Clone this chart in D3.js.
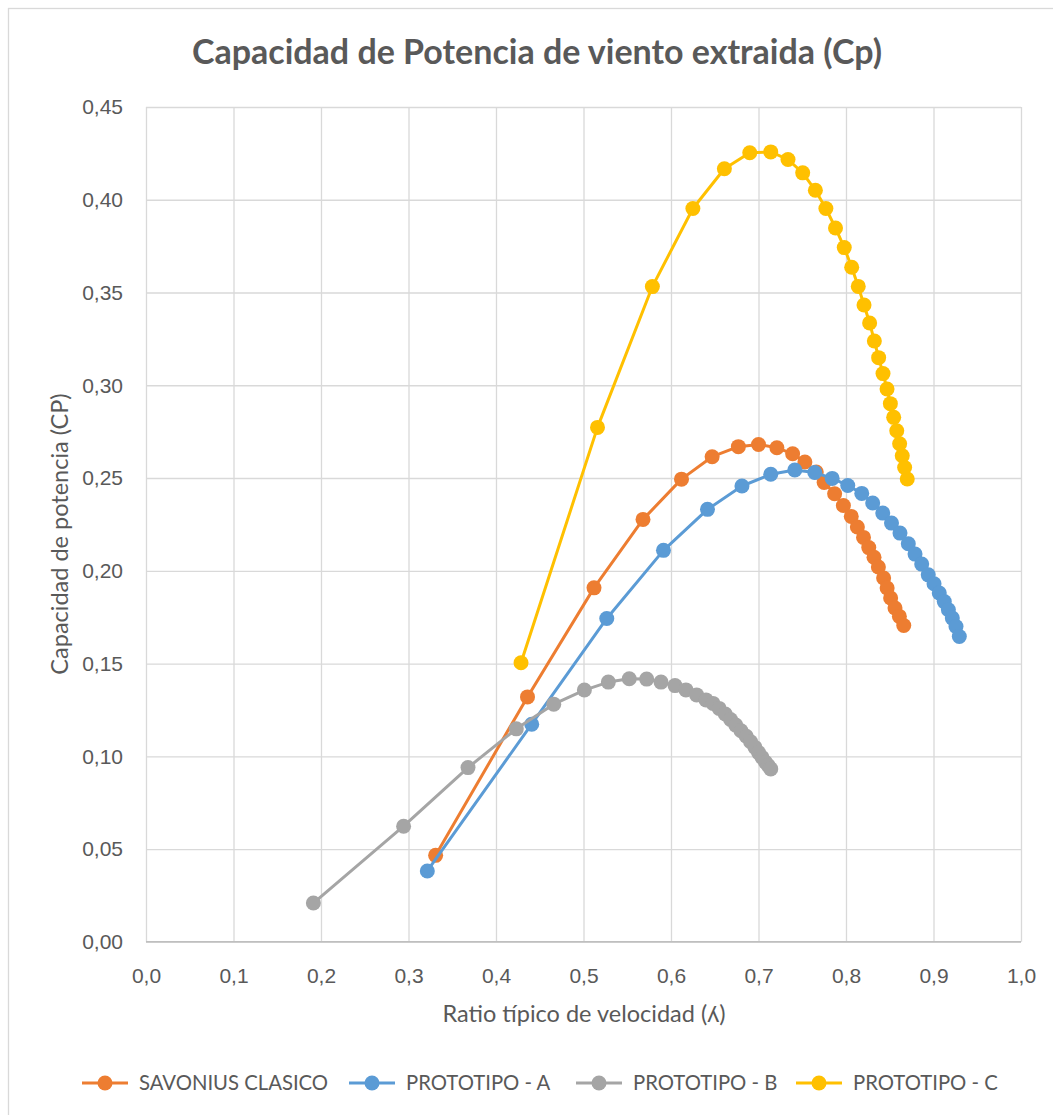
<!DOCTYPE html>
<html>
<head>
<meta charset="utf-8">
<script src="https://cdnjs.cloudflare.com/ajax/libs/d3/7.8.5/d3.min.js"></script>
<style>
  body { margin: 0; background: #fff; }
  svg { display: block; font-family: Lato, "Open Sans", sans-serif; }
  .grid line { stroke: #d9d9d9; stroke-width: 1.3px; }
  .grid .domain { display: none; }
  .tick text { fill: #595959; }
  .series-line { fill: none; stroke-width: 3px; stroke-linejoin: round; }
</style>
</head>
<body>
<svg id="chart" width="1053" height="1115"></svg>
<script>

// Savonius clasico
var lambdaSavonius = [0.331, 0.436, 0.512, 0.568, 0.612, 0.647, 0.677, 0.700, 0.721, 0.739, 0.753,
    0.766, 0.775, 0.787, 0.797, 0.806, 0.813, 0.820, 0.826, 0.832, 0.837, 0.843, 0.847, 0.851, 0.856, 0.861, 0.866];
var cpSavonius = [0.0466, 0.1320, 0.1908, 0.2277, 0.2494, 0.2615, 0.2669, 0.2681, 0.2663, 0.2631, 0.2586,
    0.2532, 0.2476, 0.2415, 0.2352, 0.2293, 0.2236, 0.2180, 0.2125, 0.2073, 0.2020, 0.1961, 0.1907, 0.1853, 0.1799, 0.1754, 0.1705];

// Prototipo A
var lambdaProtoA = [0.3215, 0.4408, 0.5266, 0.5914, 0.6417, 0.6811, 0.714, 0.7415, 0.7643, 0.7842, 0.802,
    0.818, 0.8305, 0.842, 0.852, 0.8617, 0.8712, 0.8789, 0.8865, 0.894, 0.9006, 0.9066, 0.9123, 0.917, 0.9215, 0.9257, 0.9295];
var cpProtoA = [0.0382, 0.1173, 0.1743, 0.2110, 0.2331, 0.2457, 0.2520, 0.2543, 0.2530, 0.2498, 0.2460,
    0.2417, 0.2365, 0.2311, 0.2257, 0.2203, 0.2146, 0.2090, 0.2036, 0.1978, 0.1930, 0.1880, 0.1834, 0.1790, 0.1745, 0.1700, 0.1646];

// Prototipo B
var lambdaProtoB = [0.1913, 0.2944, 0.368, 0.4232, 0.466, 0.501, 0.5284, 0.5523, 0.5722, 0.5886, 0.6046,
    0.6171, 0.6293, 0.640, 0.648, 0.655, 0.662, 0.668, 0.674, 0.680, 0.686, 0.691, 0.696, 0.700, 0.704, 0.708, 0.711, 0.714];
var cpProtoB = [0.0209, 0.0623, 0.0939, 0.1148, 0.1281, 0.1357, 0.1400, 0.1418, 0.1416, 0.1400, 0.1381,
    0.1358, 0.1331, 0.1304, 0.1285, 0.1258, 0.1228, 0.1198, 0.1168, 0.1138, 0.1108, 0.1078, 0.1048, 0.1020, 0.0994, 0.0968, 0.0950, 0.0932];

// Prototipo C
var lambdaProtoC = [0.4286, 0.516, 0.5787, 0.625, 0.661, 0.690, 0.714, 0.7337, 0.7505, 0.765, 0.777,
    0.788, 0.798, 0.8065, 0.814, 0.8206, 0.827, 0.8324, 0.8373, 0.8423, 0.8469, 0.8507, 0.8545, 0.858, 0.8613, 0.8643, 0.867, 0.870];
var cpProtoC = [0.1504, 0.2773, 0.3532, 0.3953, 0.4167, 0.4253, 0.4258, 0.4217, 0.4145, 0.4051, 0.3953,
    0.3848, 0.3742, 0.3636, 0.3533, 0.3433, 0.3336, 0.3239, 0.3149, 0.3063, 0.2980, 0.2901, 0.2827, 0.2755, 0.2685, 0.2620, 0.2557, 0.2495];

var seriesNames = ["SAVONIUS CLASICO", "PROTOTIPO - A", "PROTOTIPO - B", "PROTOTIPO - C"];
var seriesColors = ["#ED7D31", "#5B9BD5", "#A5A5A5", "#FFC000"];
var xTicks = [0, 0.1, 0.2, 0.3, 0.4, 0.5, 0.6, 0.7, 0.8, 0.9, 1.0];
var yTicks = [0, 0.05, 0.10, 0.15, 0.20, 0.25, 0.30, 0.35, 0.40, 0.45];

var series = [
    {name: seriesNames[0], color: seriesColors[0], x: lambdaSavonius, y: cpSavonius},
    {name: seriesNames[1], color: seriesColors[1], x: lambdaProtoA, y: cpProtoA},
    {name: seriesNames[2], color: seriesColors[2], x: lambdaProtoB, y: cpProtoB},
    {name: seriesNames[3], color: seriesColors[3], x: lambdaProtoC, y: cpProtoC}
];

var svg = d3.select("#chart");

// chart border (only top and left are visible in the frame)
svg.append("rect")
    .attr("x", 8.5).attr("y", 8.5)
    .attr("width", 1200).attr("height", 1200)
    .attr("fill", "none")
    .attr("stroke", "#d9d9d9")
    .attr("stroke-width", 1.3);

var plot = {left: 146, right: 1021, top: 107, bottom: 941.8};

var x = d3.scaleLinear().domain([0, 1]).range([plot.left, plot.right]);
var y = d3.scaleLinear().domain([0, 0.45]).range([plot.bottom, plot.top]);

var commaFmt = function(spec) {
    var f = d3.format(spec);
    return function(d) { return f(d).replace(".", ","); };
};

// grid
svg.append("g")
    .attr("class", "grid")
    .attr("transform", "translate(0," + plot.bottom + ")")
    .call(d3.axisBottom(x).tickValues(xTicks).tickSize(-(plot.bottom - plot.top)).tickFormat(""));

svg.append("g")
    .attr("class", "grid")
    .attr("transform", "translate(" + plot.left + ",0)")
    .call(d3.axisLeft(y).tickValues(yTicks).tickSize(-(plot.right - plot.left)).tickFormat(""));

// x axis line
svg.append("line")
    .attr("x1", plot.left).attr("x2", plot.right)
    .attr("y1", plot.bottom).attr("y2", plot.bottom)
    .attr("stroke", "#bfbfbf").attr("stroke-width", 1.5);

// tick labels
var xAxis = svg.append("g")
    .attr("transform", "translate(0," + plot.bottom + ")")
    .call(d3.axisBottom(x).tickValues(xTicks).tickSize(0).tickPadding(0).tickFormat(commaFmt(".1f")));
xAxis.select(".domain").remove();
xAxis.selectAll("text")
    .attr("y", 34).attr("dy", "0.35em")
    .style("font-size", "21px");

var yAxis = svg.append("g")
    .attr("transform", "translate(" + plot.left + ",0)")
    .call(d3.axisLeft(y).tickValues(yTicks).tickSize(0).tickPadding(0).tickFormat(commaFmt(".2f")));
yAxis.select(".domain").remove();
yAxis.selectAll("text")
    .attr("x", -23)
    .style("font-size", "21px");

// titles
svg.append("text")
    .attr("x", 537).attr("y", 52)
    .attr("dy", "0.35em")
    .attr("text-anchor", "middle")
    .attr("fill", "#595959")
    .style("font-size", "34px")
    .style("font-weight", "bold")
    .text("Capacidad de Potencia de viento extraida (Cp)");

svg.append("text")
    .attr("x", 584).attr("y", 1014)
    .attr("dy", "0.35em")
    .attr("text-anchor", "middle")
    .attr("fill", "#595959")
    .style("font-size", "23.5px")
    .text("Ratio típico de velocidad (ʎ)");

svg.append("text")
    .attr("transform", "translate(60,534) rotate(-90)")
    .attr("dy", "0.35em")
    .attr("text-anchor", "middle")
    .attr("fill", "#595959")
    .style("font-size", "23.5px")
    .text("Capacidad de potencia (CP)");

// series
var line = d3.line()
    .x(function(d) { return x(d[0]); })
    .y(function(d) { return y(d[1]); });

series.forEach(function(s) {
    var pts = s.x.map(function(v, i) { return [v, s.y[i]]; });
    var g = svg.append("g");
    g.append("path")
        .datum(pts)
        .attr("class", "series-line")
        .attr("stroke", s.color)
        .attr("d", line);
    g.selectAll("circle")
        .data(pts)
        .enter().append("circle")
        .attr("cx", function(d) { return x(d[0]); })
        .attr("cy", function(d) { return y(d[1]); })
        .attr("r", 7.5)
        .attr("fill", s.color);
});

// legend
var legendX = [82, 349, 576, 796];
var legend = svg.append("g").attr("transform", "translate(0,1083)");
series.forEach(function(s, i) {
    var item = legend.append("g").attr("transform", "translate(" + legendX[i] + ",0)");
    item.append("line")
        .attr("x1", 0).attr("x2", 46)
        .attr("stroke", s.color).attr("stroke-width", 3);
    item.append("circle")
        .attr("cx", 23).attr("r", 7.5)
        .attr("fill", s.color);
    item.append("text")
        .attr("x", 57).attr("dy", "0.35em")
        .attr("fill", "#595959")
        .style("font-size", "20.3px")
        .text(s.name);
});

</script>
</body>
</html>
